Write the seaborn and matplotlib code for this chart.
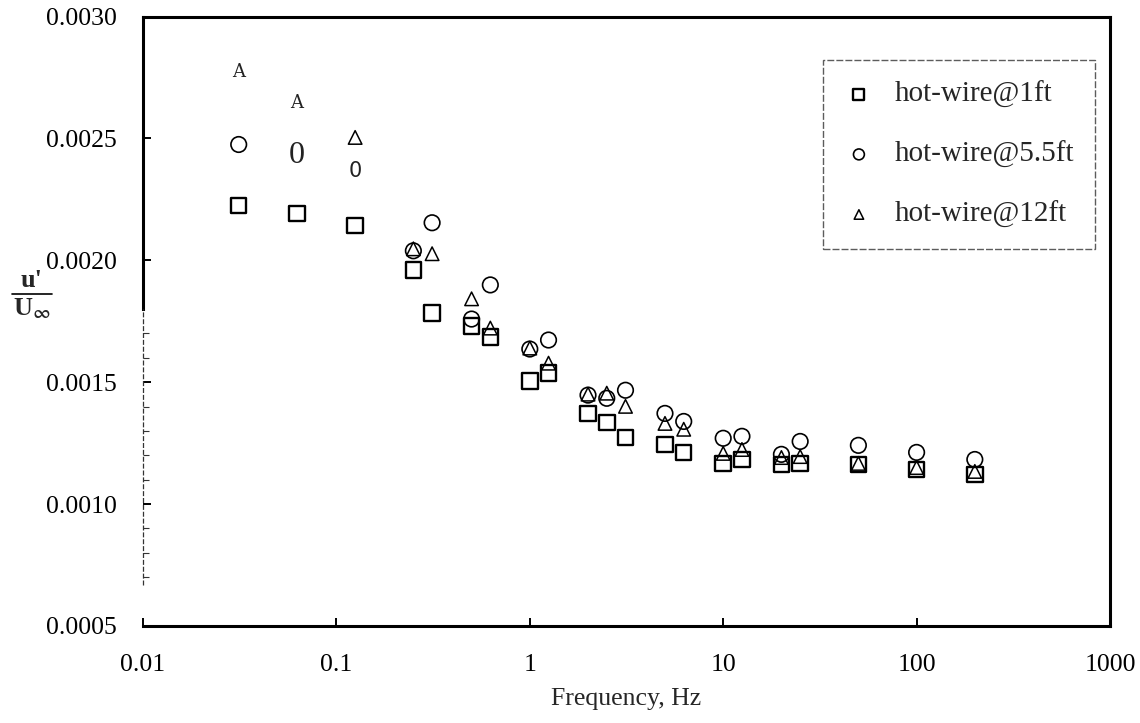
import matplotlib
matplotlib.use("Agg")
import matplotlib.pyplot as plt
import matplotlib.ticker as mticker
from matplotlib.lines import Line2D
import pandas as pd
import seaborn as sns

# frequencies (Hz)
freq = [0.03125, 0.0625, 0.125, 0.25, 0.3125, 0.5, 0.625, 1, 1.25, 2, 2.5,
        3.125, 5, 6.25, 10, 12.5, 20, 25, 50, 100, 200]

# hot-wire @ 1 ft (squares)
u_1ft = [0.002224, 0.002191, 0.002142, 0.001961, 0.001784, 0.001730, 0.001685,
         0.001504, 0.001537, 0.001372, 0.001335, 0.001274, 0.001245, 0.001212,
         0.001167, 0.001183, 0.001163, 0.001167, 0.001163, 0.001142, 0.001121]

# hot-wire @ 5.5 ft (circles) -- two points came out of the scan as "0"
freq_55 = [0.03125, 0.25, 0.3125, 0.5, 0.625, 1, 1.25, 2, 2.5, 3.125, 5, 6.25,
           10, 12.5, 20, 25, 50, 100, 200]
u_55ft = [0.002475, 0.002039, 0.002154, 0.001759, 0.001899, 0.001636, 0.001673,
          0.001447, 0.001434, 0.001467, 0.001372, 0.001339, 0.001270, 0.001278,
          0.001204, 0.001257, 0.001241, 0.001212, 0.001183]

# hot-wire @ 12 ft (triangles) -- two points came out of the scan as "A"
freq_12 = [0.125, 0.25, 0.3125, 0.5, 0.625, 1, 1.25, 2, 2.5, 3.125, 5, 6.25,
           10, 12.5, 20, 25, 50, 100, 200]
u_12ft = [0.002504, 0.002047, 0.002027, 0.001842, 0.001722, 0.001640, 0.001578,
          0.001451, 0.001455, 0.001401, 0.001331, 0.001307, 0.001208, 0.001224,
          0.001191, 0.001195, 0.001167, 0.001150, 0.001134]

# OCR glyphs that replaced markers in the scan
glyph_freq = [0.03125, 0.0625, 0.0625, 0.125]
glyph_val = [0.002772, 0.002644, 0.002430, 0.002368]
glyph_text = ["A", "A", "0", "0"]

labels = ["hot-wire@1ft", "hot-wire@5.5ft", "hot-wire@12ft"]

df = pd.concat([
    pd.DataFrame({"f": freq, "u": u_1ft, "probe": labels[0]}),
    pd.DataFrame({"f": freq_55, "u": u_55ft, "probe": labels[1]}),
    pd.DataFrame({"f": freq_12, "u": u_12ft, "probe": labels[2]}),
], ignore_index=True)

sns.set_style("white")
plt.rcParams["font.family"] = ["Liberation Serif", "DejaVu Serif"]
plt.rcParams["mathtext.fontset"] = "stix"

fig = plt.figure(figsize=(11.4, 7.23), dpi=100)
ax = fig.add_axes([143 / 1140, 1 - 626 / 723, (1110 - 143) / 1140, (626 - 16.5) / 723])

styles = {labels[0]: ("s", 125, 1.7), labels[1]: ("o", 125, 1.2), labels[2]: ("^", 95, 1.1)}
for name in labels:
    m, s, lw = styles[name]
    sns.scatterplot(data=df[df["probe"] == name], x="f", y="u", marker=m, s=s,
                    facecolors="none", edgecolor="black", linewidth=lw,
                    label=name, ax=ax, zorder=3)

glyph_fonts = [
    dict(family="DejaVu Serif", size=13),
    dict(family="DejaVu Serif", size=13),
    dict(family="Liberation Serif", size=23),
    dict(family="DejaVu Sans", size=15),
]
for fx, fy, t, fk in zip(glyph_freq, glyph_val, glyph_text, glyph_fonts):
    ax.text(fx, fy, t, ha="center", va="center", fontfamily=fk["family"],
            fontsize=fk["size"], color="#222222")

ax.set_xscale("log")
ax.set_xlim(0.01, 1000)
ax.set_ylim(0.0005, 0.0030)

ax.xaxis.set_major_locator(mticker.FixedLocator([0.01, 0.1, 1, 10, 100, 1000]))
ax.xaxis.set_major_formatter(mticker.FixedFormatter(["0.01", "0.1", "1", "10", "100", "1000"]))
ax.xaxis.set_minor_locator(mticker.NullLocator())
ax.yaxis.set_major_locator(mticker.MultipleLocator(0.0005))
ax.yaxis.set_major_formatter(mticker.FormatStrFormatter("%.4f"))
ax.yaxis.set_minor_locator(mticker.FixedLocator(
    [0.0007, 0.0008, 0.0009, 0.0011, 0.0012, 0.0013, 0.0014, 0.0016, 0.0017]))

ax.tick_params(axis="both", which="both", bottom=True, left=True, top=False, right=False)
ax.tick_params(axis="both", which="major", direction="in", length=6, width=1.4,
               labelsize=18.5, color="black", labelcolor="black")
ax.tick_params(axis="x", which="major", pad=20)
ax.tick_params(axis="y", which="major", pad=19)
ax.tick_params(axis="y", which="minor", direction="in", length=4, width=0.8, color="#333333")

for side in ["top", "right", "bottom", "left"]:
    ax.spines[side].set_color("black")
    ax.spines[side].set_linewidth(2.2)
ax.spines["left"].set_bounds(0.0018, 0.0030)
ax.vlines(0.01, 0.00067, 0.0018, colors="#333333", linewidth=0.9,
          linestyles=(0, (4, 1.5)), clip_on=False, zorder=4)

ax.set_xlabel("Frequency, Hz", fontsize=18.5, labelpad=9)
ax.set_ylabel("")

# stacked u'/U_inf label
fig.text(32 / 1140, 1 - 281 / 723, "u'", fontsize=19, fontweight="bold",
         ha="center", va="center")
fig.add_artist(Line2D([12 / 1140, 52 / 1140], [1 - 294 / 723, 1 - 294 / 723],
                      color="black", linewidth=1.2))
fig.text(32 / 1140, 1 - 309 / 723, r"U$_{\mathbf{\infty}}$", fontsize=19,
         fontweight="bold", ha="center", va="center")

leg = ax.legend(loc="upper right", bbox_to_anchor=(1095 / 1140, 1 - 60 / 723),
                bbox_transform=fig.transFigure, borderaxespad=0, fontsize=21,
                markerscale=0.7, frameon=True, fancybox=False, handlelength=1.0,
                handletextpad=0.72, labelspacing=1.13, borderpad=0.72)
frame = leg.get_frame()
frame.set_edgecolor("#333333")
frame.set_linewidth(1.0)
frame.set_linestyle((0, (5, 1.5)))

fig.savefig("out.png", dpi=100)
